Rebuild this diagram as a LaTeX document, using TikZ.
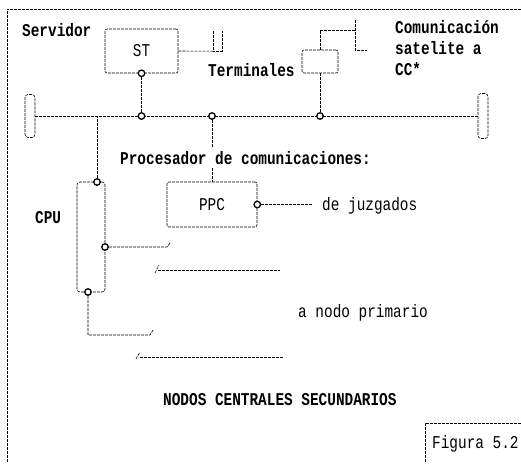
\documentclass[tikz,border=0pt]{standalone}
\usepackage{fontspec}
\newfontfamily\scanfont[FakeStretch=0.8]{Liberation Mono}
\usetikzlibrary{calc}
\tikzset{
  wire/.style={line width=0.6pt, dash pattern=on 3pt off 1pt},
  boxd/.style={draw, line width=0.6pt, dash pattern=on 3pt off 1pt, rounded corners=2pt, inner sep=0pt},
  port/.style={circle, draw, line width=1.3pt, fill=white, inner sep=0pt, minimum size=6.5pt, solid},
  lbl/.style={font=\scanfont\fontsize{18}{21}\selectfont, inner sep=0pt},
  blbl/.style={font=\scanfont\bfseries\fontsize{18}{21}\selectfont, inner sep=0pt},
}
\begin{document}
\begin{tikzpicture}[x=1pt,y=-1pt]
\useasboundingbox (0,0) rectangle (521,464);
% outer frame
\coordinate (fbl) at (7,462);
\coordinate (ftl) at (7,9);
\coordinate (ftr) at (521,9);
\draw[wire] (fbl) -- (ftl) -- (ftr);

% server
\node[blbl, anchor=base west] (servidor) at (22,36) {Servidor};
\node[boxd, minimum width=73pt, minimum height=44pt, lbl] (st) at (141.5,51) {ST};
\node[inner sep=0pt, minimum width=9pt, minimum height=20pt] (term1) at (217.5,41) {};
\draw[wire] (term1.north west) -- (term1.south west) -- (term1.south east) -- (term1.north east);
\draw[wire] (st.east) -- (term1.south west);
\node[port] (stc) at (st.south) {};

% bus
\node[boxd, minimum width=10pt, minimum height=43pt, rounded corners=3pt] (lb) at (30,116) {};
\node[boxd, minimum width=10pt, minimum height=45pt, rounded corners=3pt] (rb) at (483,116) {};
\draw[wire] (lb.east) -- (rb.west);
\node[port] (b1) at (st.south |- lb.east) {};
\node[port] (b2) at (212,116) {};
\node[port] (b3) at (320,116) {};
\draw[wire] (stc) -- (b1);

% terminals
\node[boxd, minimum width=36pt, minimum height=23pt] (tb) at (320,61.5) {};
\draw[wire] (tb.south) -- (b3);
\node[blbl, anchor=base west] (terminales) at (208,76) {Terminales};
\coordinate (s1) at (355,30);
\coordinate (s2) at (355,20);
\coordinate (s3) at (355,50);
\coordinate (s4) at (367,50);
\draw[wire] (tb.north) -- (tb.north |- s1) -- (s1);
\draw[wire] (s2) -- (s3) -- (s4);
\node[blbl, anchor=base west] (com1) at (395,33) {Comunicación};
\node[blbl, anchor=base west] (com2) at (395,54) {satelite a};
\node[blbl, anchor=base west] (com3) at (395,75) {CC*};

% communications processor
\node[blbl, anchor=base west, inner ysep=4pt] (proc) at (120,164) {Procesador de comunicaciones:};
\node[boxd, minimum width=90pt, minimum height=45pt, lbl] (ppc) at (212,204.5) {PPC};
\draw[wire] (b2) -- (b2 |- proc.north);
\draw[wire] (b2 |- proc.south) -- (ppc.north);
\node[port] (ppcc) at (ppc.east) {};
\coordinate (jz) at (313,204.5);
\draw[wire] (ppcc) -- (jz);
\node[lbl, anchor=base west] (juz) at (322,210) {de juzgados};

% CPU
\node[blbl, anchor=base west] (cpulbl) at (35,223) {CPU};
\node[boxd, minimum width=28pt, minimum height=110pt, rounded corners=3pt] (cpu) at (91,237) {};
\node[port] (c1) at (97,182) {};
\node[port] (c2) at (105,247) {};
\node[port] (c3) at (88,292) {};
\draw[wire] (c1) -- (c1 |- lb.east);

% off-page wires
\coordinate (w1) at (167,247);
\coordinate (w1t) at (170,243);
\draw[wire] (c2) -- (w1) -- (w1t);
\coordinate (w1a) at (155,273);
\coordinate (w1b) at (159,265);
\coordinate (w1c) at (158,270);
\coordinate (w1e) at (280,270);
\draw[wire] (w1a) -- (w1b);
\draw[wire] (w1c) -- (w1e);

\coordinate (w2) at (88,335);
\coordinate (w2e) at (150,335);
\coordinate (w2t) at (153,330);
\draw[wire] (c3) -- (w2) -- (w2e) -- (w2t);
\coordinate (w2a) at (136,359);
\coordinate (w2b) at (140,352);
\coordinate (w2c) at (140,357);
\coordinate (w2f) at (283,357);
\draw[wire] (w2a) -- (w2b);
\draw[wire] (w2c) -- (w2f);
\node[lbl, anchor=base west] (prim) at (298,317) {a nodo primario};

% title
\node[blbl, anchor=base west] (title) at (163,405) {NODOS CENTRALES SECUNDARIOS};

% figure label
\coordinate (fg1) at (425,462);
\coordinate (fg2) at (425,423);
\coordinate (fg3) at (521,423);
\draw[wire] (fg1) -- (fg2) -- (fg3);
\node[lbl, anchor=base west] (fig) at (432,448) {Figura 5.2};
\end{tikzpicture}
\end{document}
